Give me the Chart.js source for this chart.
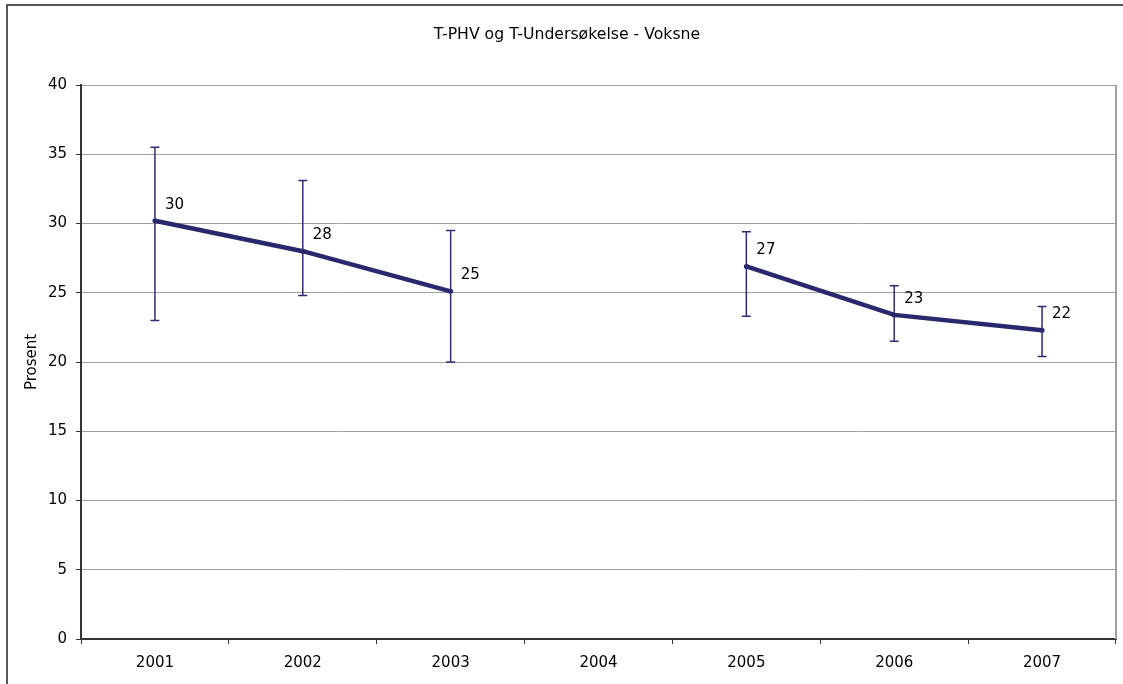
<!DOCTYPE html>
<html>
<head>
<meta charset="utf-8">
<title>T-PHV og T-Undersøkelse - Voksne</title>
<script src="https://cdn.jsdelivr.net/npm/chart.js@4/dist/chart.umd.min.js"></script>
<style>
  html, body { margin: 0; padding: 0; background: #fff; }
  #wrap { width: 1123px; height: 684px; position: relative; }
</style>
</head>
<body>
<div id="wrap"><canvas id="voksne-chart" width="1123" height="684"></canvas></div>
<script>
// Data
const aar = ['2001', '2002', '2003', '2004', '2005', '2006', '2007'];
const prosent = [30.2, 28.0, 25.1, null, 26.9, 23.4, 22.3];
const ovreGrense = [35.5, 33.1, 29.5, null, 29.4, 25.5, 24.0];
const nedreGrense = [23.0, 24.8, 20.0, null, 23.3, 21.5, 20.4];
const yMin = 0;
const yMax = 40;
const yStep = 5;

const tittel = 'T-PHV og T-Undersøkelse - Voksne';
const yTittel = 'Prosent';

const linjeFarge = '#28286e';
const font = 'DejaVu Sans';

// Ramme, tittel, feilstolper og verdietiketter
const tegnEkstra = {
  id: 'tegnEkstra',
  beforeDatasetsDraw(chart) {
    const ctx = chart.ctx;
    const x = chart.scales.x;
    const y = chart.scales.y;
    const area = chart.chartArea;

    ctx.save();
    // høyre kant av plottet
    ctx.strokeStyle = '#a0a0a0';
    ctx.lineWidth = 2;
    ctx.beginPath();
    ctx.moveTo(area.right, area.top);
    ctx.lineTo(area.right, area.bottom);
    ctx.stroke();

    // feilstolper
    ctx.strokeStyle = '#2e2e78';
    ctx.lineWidth = 1.5;
    aar.forEach((a, i) => {
      if (ovreGrense[i] == null) return;
      const px = x.getPixelForValue(i);
      const top = y.getPixelForValue(ovreGrense[i]);
      const bunn = y.getPixelForValue(nedreGrense[i]);
      ctx.beginPath();
      ctx.moveTo(px, top);
      ctx.lineTo(px, bunn);
      ctx.moveTo(px - 4.5, top);
      ctx.lineTo(px + 4.5, top);
      ctx.moveTo(px - 4.5, bunn);
      ctx.lineTo(px + 4.5, bunn);
      ctx.stroke();
    });
    ctx.restore();
  },
  afterDatasetsDraw(chart) {
    const ctx = chart.ctx;
    const x = chart.scales.x;
    const y = chart.scales.y;

    ctx.save();
    ctx.fillStyle = '#000';
    ctx.font = '15px "' + font + '"';
    ctx.textAlign = 'left';
    ctx.textBaseline = 'middle';
    prosent.forEach((v, i) => {
      if (v == null) return;
      const px = x.getPixelForValue(i);
      const py = y.getPixelForValue(v);
      ctx.fillText(String(Math.round(v)), px + 10, py - 16);
    });
    ctx.restore();
  },
  afterDraw(chart) {
    const ctx = chart.ctx;
    const area = chart.chartArea;
    ctx.save();
    // ytre ramme
    ctx.strokeStyle = '#222';
    ctx.lineWidth = 1.5;
    ctx.beginPath();
    ctx.moveTo(7, chart.height);
    ctx.lineTo(7, 5);
    ctx.lineTo(chart.width, 5);
    ctx.stroke();

    ctx.fillStyle = '#000';
    ctx.textAlign = 'center';
    ctx.textBaseline = 'middle';
    ctx.font = '15.7px "' + font + '"';
    ctx.fillText(tittel, 567, 35);

    ctx.translate(32, (area.top + area.bottom) / 2);
    ctx.rotate(-Math.PI / 2);
    ctx.font = '15px "' + font + '"';
    ctx.fillText(yTittel, 0, 0);
    ctx.restore();
  }
};

new Chart(document.getElementById('voksne-chart'), {
  type: 'line',
  data: {
    labels: aar,
    datasets: [{
      data: prosent,
      borderColor: linjeFarge,
      backgroundColor: linjeFarge,
      borderWidth: 4.5,
      pointRadius: 2.5,
      pointBorderWidth: 0,
      tension: 0,
      spanGaps: false
    }]
  },
  options: {
    responsive: false,
    animation: false,
    layout: { padding: { left: 0, top: 85, right: 7, bottom: 0 } },
    plugins: {
      legend: { display: false },
      tooltip: { enabled: false }
    },
    scales: {
      x: {
        offset: true,
        afterFit(scale) { scale.height = 45; },
        grid: {
          offset: true,
          drawOnChartArea: false,
          tickLength: 5,
          tickColor: '#333'
        },
        border: { color: '#333', width: 2 },
        ticks: {
          color: '#000',
          font: { family: font, size: 15 },
          padding: 10,
          maxRotation: 0
        }
      },
      y: {
        min: yMin,
        max: yMax,
        afterFit(scale) { scale.width = 81; },
        grid: {
          color: '#a0a0a0',
          lineWidth: 1,
          tickLength: 5,
          tickColor: '#333'
        },
        border: { color: '#333', width: 2 },
        ticks: {
          stepSize: yStep,
          color: '#000',
          font: { family: font, size: 15 },
          padding: 9
        }
      }
    }
  },
  plugins: [tegnEkstra]
});
</script>
</body>
</html>
